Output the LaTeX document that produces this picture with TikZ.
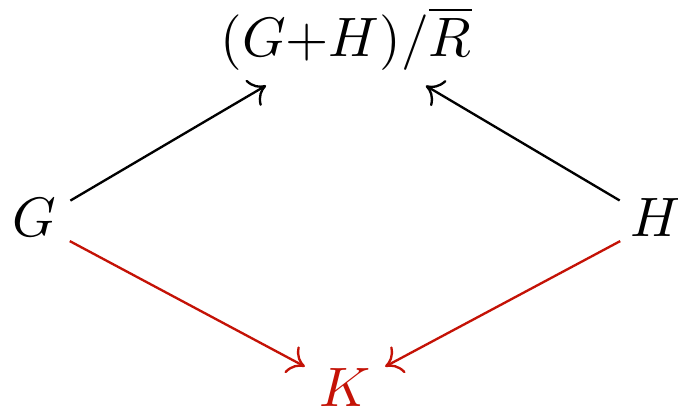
\documentclass[tikz,border=0pt]{standalone}
\usetikzlibrary{arrows.meta}
\definecolor{arrred}{RGB}{196,18,6}
\begin{document}
\begin{tikzpicture}[x=0.18pt,y=-0.18pt,
  obj/.style={inner sep=0pt, outer sep=0pt},
  arr/.style={-{Computer Modern Rightarrow[length=2.8pt,width=5.4pt]}, line width=0.42pt},
  redarr/.style={arr, draw=arrred}]
\useasboundingbox (0,0) rectangle (678,410);
\node[obj] (T) at (346,38.5) {$(G{+}H)/\overline{R}$};
\node[obj, text depth=1.6pt] (G) at (34,222) {$G$};
\node[obj, text depth=1.6pt] (H) at (656,222) {$H$};
\node[obj, text=arrred] (K) at (345,388) {$K$};
\draw[arr, shorten <=7.6pt, shorten >=16.7pt] (G.center) -- (T.center);
\draw[arr, shorten <=7.6pt, shorten >=16.7pt] (H.center) -- (T.center);
\draw[redarr, shorten <=7.3pt, shorten >=8.2pt] (G.center) -- (K.center);
\draw[redarr, shorten <=7.3pt, shorten >=8.2pt] (H.center) -- (K.center);
\end{tikzpicture}
\end{document}
